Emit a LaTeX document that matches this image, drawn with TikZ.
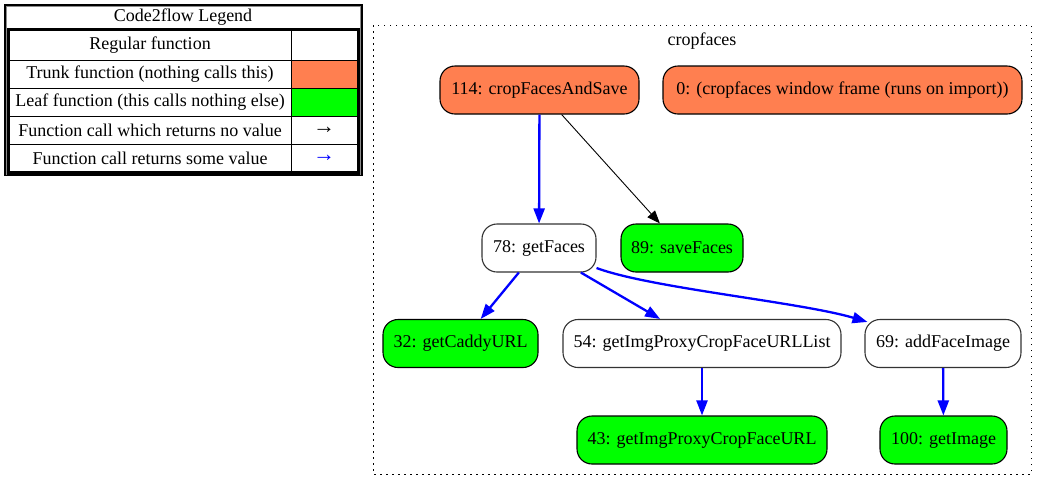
\documentclass[tikz,border=0pt]{standalone}
\usepackage{fontspec}
\setmainfont{Liberation Serif}
\usetikzlibrary{arrows.meta,calc}
\definecolor{coral}{HTML}{FF7F50}
\definecolor{leafgreen}{HTML}{00FF00}
\begin{document}
\begin{tikzpicture}[x=1pt,y=-1pt,
  fn/.style={draw=black!80,line width=1.1pt,rounded corners=15pt,fill=white,
    minimum height=48pt,inner sep=0pt,font=\fontsize{18}{21}\selectfont},
  trunk/.style={fn,fill=coral,draw=black},
  leaf/.style={fn,fill=leafgreen,draw=black},
  ret/.style={draw=blue,line width=2.3pt,-{Triangle[length=15pt,width=11pt]}},
  noret/.style={draw=black,line width=0.9pt,-{Triangle[length=13pt,width=10pt]}},
  legtxt/.style={font=\fontsize{18}{21}\selectfont,inner sep=0pt},
  legarr/.style={inner sep=0pt,font=\fontsize{22}{24}\selectfont}]
\useasboundingbox (0,0) rectangle (1049,491);
% legend
\fill[black] (4,4) rectangle (363,176);
\fill[black!45] (5.5,5.5) rectangle (361,174.5);
\fill[white] (6.5,6.5) rectangle (360,27.5);
\fill[black] (7,28) rectangle (360,175);
\node[legtxt] (legtitle) at (183,17) {Code2flow Legend};
\foreach \t/\b in {31/59.5,60.5/87.5,88.5/115.5,116.5/143.5,144.5/170.5}{
  \fill[white] (10,\t) rectangle (290.5,\b);
  \fill[white] (291.5,\t) rectangle (357,\b);
}
\fill[coral] (291.5,60.5) rectangle (357,87.5);
\fill[leafgreen] (291.5,88.5) rectangle (357,115.5);
\node[legtxt] (l1) at (150,45.5) {Regular function};
\node[legtxt] (l2) at (150,74) {Trunk function (nothing calls this)};
\node[legtxt] (l3) at (150,102) {Leaf function (this calls nothing else)};
\node[legtxt] (l4) at (150,130) {Function call which returns no value};
\node[legtxt] (l5) at (150,158) {Function call returns some value};
\node[legarr] (a4) at (324,130) {→};
\node[legarr,text=blue] (a5) at (324,158) {→};
% cluster
\draw[black,line width=1pt,dash pattern=on 1.5pt off 4.5pt] (373,25) rectangle (1031,474);
\node[font=\fontsize{18}{21}\selectfont,inner sep=0pt] (clabel) at (702,41) {cropfaces};
% nodes
\node[trunk,minimum width=199pt] (n114) at (539.5,90) {114: cropFacesAndSave};
\node[trunk,minimum width=359pt] (n0) at (842.5,90) {0: (cropfaces window frame (runs on import))};
\node[fn,minimum width=114pt] (n78) at (539,248) {78: getFaces};
\node[leaf,minimum width=122pt] (n89) at (682,248) {89: saveFaces};
\node[leaf,minimum width=155pt] (n32) at (460.5,343.5) {32: getCaddyURL};
\node[fn,minimum width=278pt] (n54) at (702,343.5) {54: getImgProxyCropFaceURLList};
\node[fn,minimum width=156pt] (n69) at (943,343.5) {69: addFaceImage};
\node[leaf,minimum width=250pt] (n43) at (702,440) {43: getImgProxyCropFaceURL};
\node[leaf,minimum width=127pt] (n100) at (943.5,440) {100: getImage};
% edges
\draw[ret] (n114) -- (n78);
\draw[noret] (n114) -- (n89);
\draw[ret] (n78) -- (n32);
\draw[ret] (n78) -- (n54);
\draw[ret] ($(n78.east)+(0,20)$) .. controls (650,288) and (800,302) .. ($(n69.north west)+(3,3)$);
\draw[ret] (n54) -- (n43);
\draw[ret] (n69) -- (n100);
\end{tikzpicture}
\end{document}
